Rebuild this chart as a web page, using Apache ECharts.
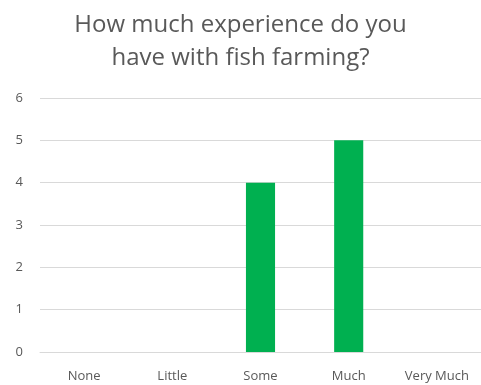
<!DOCTYPE html>
<html><head><meta charset="utf-8">
<script src="https://cdn.jsdelivr.net/npm/echarts@6/dist/echarts.min.js"></script>
<style>html,body{margin:0;padding:0;background:#fff}#c{width:481px;height:385px}</style>
</head><body><div id="c"></div>
<script>
const categories = ['None', 'Little', 'Some', 'Much', 'Very Much'];
const values = [0, 0, 4, 5, 0];
const yTicks = [0, 1, 2, 3, 4, 5, 6];
const chart = echarts.init(document.getElementById('c'));
chart.setOption({
  animation: false,
  title: {
    text: 'How much experience do you\nhave with fish farming?',
    left: 'center', top: 4,
    textStyle: { fontFamily: 'Open Sans', fontSize: 24, fontWeight: 'normal', color: '#595959', lineHeight: 33 }
  },
  grid: { left: 40, right: -1, top: 98, bottom: 33, containLabel: false },
  xAxis: {
    type: 'category', data: categories,
    axisLine: { show: true, lineStyle: { color: '#d9d9d9' } },
    axisTick: { show: false },
    axisLabel: { color: '#595959', fontFamily: 'Open Sans', fontSize: 13, margin: 18 }
  },
  yAxis: {
    type: 'value', min: yTicks[0], max: yTicks[yTicks.length - 1], interval: 1,
    axisLine: { show: false }, axisTick: { show: false },
    splitLine: { lineStyle: { color: '#d9d9d9' } },
    axisLabel: { color: '#595959', fontFamily: 'Open Sans', fontSize: 13, margin: 17 }
  },
  series: [{
    type: 'bar', data: values, barWidth: '33%',
    itemStyle: { color: '#00B050' }
  }]
});
</script></body></html>
